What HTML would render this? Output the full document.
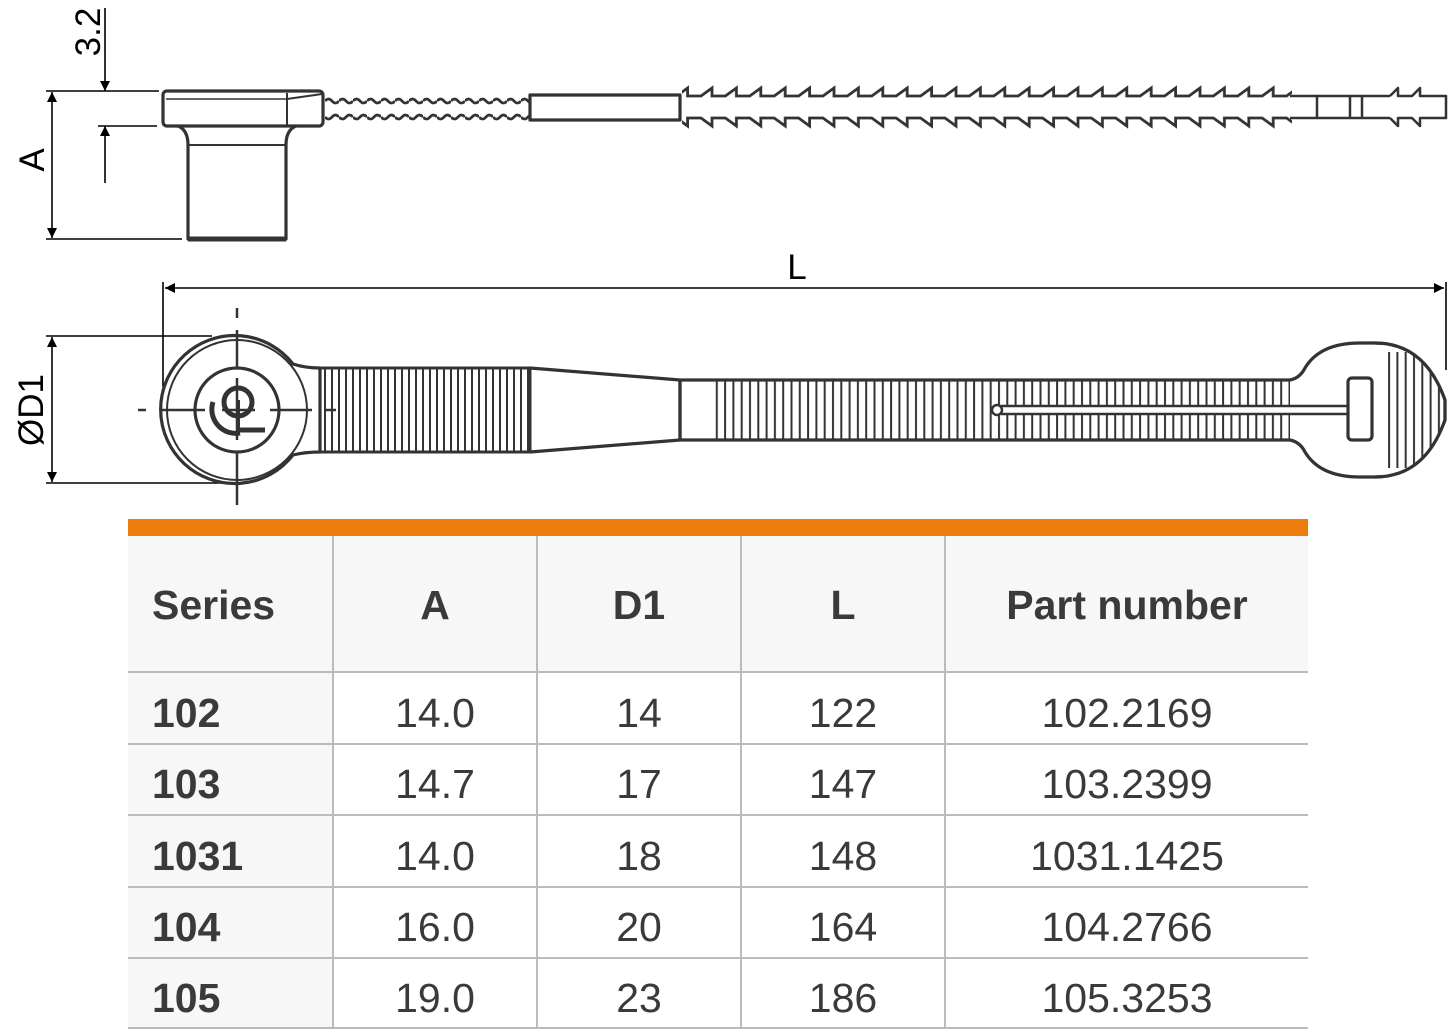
<!DOCTYPE html>
<html><head><meta charset="utf-8"><style>
html,body{margin:0;padding:0;background:#fff;width:1454px;height:1034px;overflow:hidden;position:relative;font-family:"Liberation Sans",Arial,sans-serif}
svg{position:absolute;left:0;top:0}
.tbl{position:absolute;left:128px;top:519px;width:1180px}
.bar{position:absolute;left:0;top:0;width:1180px;height:17px;background:#ec7d0a}
.c{position:absolute;box-sizing:border-box;color:#3a3a3a;display:flex;align-items:center;justify-content:center;font-size:41px;padding-top:10px}
.h{font-weight:bold;font-size:41px;background:#f7f7f7;padding-top:4px}
.s{justify-content:flex-start;padding-left:24px;font-weight:bold;background:#f7f7f7}
</style></head><body>
<svg width="1454" height="520" viewBox="0 0 1454 520">
<defs>
<marker id="ar" viewBox="0 0 10 10" refX="10" refY="5" markerWidth="14" markerHeight="10" markerUnits="userSpaceOnUse" orient="auto-start-reverse"><path d="M0,0L10,5L0,10z" fill="#000"/></marker>
<pattern id="teeth" x="690" y="0" width="24.4" height="140" patternUnits="userSpaceOnUse">
<path d="M0,96 L11,96 L22,88 L22,96 L24.4,96" fill="none" stroke="#333" stroke-width="2.8"/>
<path d="M0,118 L11,118 L22,126 L22,118 L24.4,118" fill="none" stroke="#333" stroke-width="2.8"/>
</pattern>
<pattern id="wave" x="325" y="0" width="14" height="140" patternUnits="userSpaceOnUse">
<path d="M0,101 Q3.5,97 7,101 T14,101" fill="none" stroke="#333" stroke-width="2.8"/>
<path d="M0,117 Q3.5,121 7,117 T14,117" fill="none" stroke="#333" stroke-width="2.8"/>
</pattern>
<pattern id="rib" x="0" y="0" width="7" height="10" patternUnits="userSpaceOnUse">
<line x1="3" y1="0" x2="3" y2="10" stroke="#333" stroke-width="2"/>
</pattern>
<pattern id="rib2" x="0" y="0" width="8.3" height="10" patternUnits="userSpaceOnUse">
<line x1="3" y1="0" x2="3" y2="10" stroke="#333" stroke-width="2"/>
</pattern>
</defs>
<g fill="none" stroke="#000" stroke-width="1.6">
<line x1="105" y1="8" x2="105" y2="91" marker-end="url(#ar)"/>
<line x1="105" y1="183" x2="105" y2="126" marker-end="url(#ar)"/>
<line x1="46" y1="91" x2="159" y2="91"/>
<line x1="98" y1="126" x2="157" y2="126"/>
<line x1="52" y1="165" x2="52" y2="92" marker-end="url(#ar)"/>
<line x1="52" y1="165" x2="52" y2="238" marker-end="url(#ar)"/>
<line x1="46" y1="239" x2="182" y2="239"/>
<line x1="800" y1="288" x2="165" y2="288" marker-end="url(#ar)"/>
<line x1="800" y1="288" x2="1444" y2="288" marker-end="url(#ar)"/>
<line x1="163" y1="282" x2="163" y2="387"/>
<line x1="1446" y1="282" x2="1446" y2="370"/>
<line x1="52" y1="410" x2="52" y2="337" marker-end="url(#ar)"/>
<line x1="52" y1="410" x2="52" y2="482" marker-end="url(#ar)"/>
<line x1="46" y1="336" x2="212" y2="336"/>
<line x1="46" y1="483" x2="226" y2="483"/>
</g>
<g font-family="Liberation Sans,sans-serif" font-size="35" fill="#000">
<text transform="translate(100,32) rotate(-90)" text-anchor="middle">3.2</text>
<text transform="translate(44,160) rotate(-90)" text-anchor="middle">A</text>
<text x="797" y="279" text-anchor="middle">L</text>
<text transform="translate(43,410) rotate(-90)" text-anchor="middle">ØD1</text>
</g>
<g fill="none" stroke="#333" stroke-width="3.2" stroke-linejoin="round">
<rect x="163" y="91" width="160" height="35" rx="4"/>
<line x1="166" y1="99" x2="287" y2="99" stroke-width="1.5"/>
<line x1="287" y1="93" x2="287" y2="125" stroke-width="2"/>
<line x1="287" y1="99" x2="322" y2="94" stroke-width="2"/>
<path d="M178,126 Q188,130 188,145 L188,239 L286,239 L286,145 Q286,130 296,126"/>
<line x1="188" y1="145" x2="286" y2="145" stroke-width="2"/>
<line x1="188" y1="239" x2="286" y2="239" stroke-width="5"/>
<rect x="325" y="95" width="205" height="27" fill="url(#wave)" stroke="none"/>
<line x1="323" y1="97" x2="323" y2="121" stroke-width="2"/>
<rect x="530" y="95" width="150" height="25"/>
<rect x="682" y="84" width="610" height="46" fill="url(#teeth)" stroke="none"/>
<path d="M1290,96 L1317,96 L1317,118 L1290,118" stroke-width="2.5"/>
<line x1="1317" y1="96" x2="1390" y2="96" stroke-width="2.5"/>
<line x1="1317" y1="118" x2="1390" y2="118" stroke-width="2.5"/>
<line x1="1350" y1="96" x2="1350" y2="118" stroke-width="2.5"/>
<line x1="1362" y1="96" x2="1362" y2="118" stroke-width="2.5"/>
<path d="M1390,96 L1398,88 L1398,96 L1412,96 L1420,88 L1420,96 L1446,96 L1446,118 L1420,118 L1420,126 L1412,118 L1398,118 L1398,126 L1390,118" stroke-width="2.5"/>
<path d="M293,364 A74,74 0 1 0 293,455 Q305,452 320,452 L320,368 Q305,368 293,364 Z"/>
<circle cx="237" cy="410" r="70" stroke-width="2"/>
<circle cx="237" cy="410" r="42"/>
<path d="M213,402 A24,24 0 0 0 240,433" stroke-width="5"/>
<circle cx="238" cy="402" r="14" stroke-width="5"/>
<line x1="238" y1="400" x2="238" y2="432" stroke-width="4"/>
<line x1="238" y1="430" x2="265" y2="430" stroke-width="5"/>
<g stroke-width="2.5">
<line x1="237" y1="308" x2="237" y2="318"/>
<line x1="237" y1="330" x2="237" y2="368"/>
<line x1="237" y1="378" x2="237" y2="440"/>
<line x1="237" y1="452" x2="237" y2="505"/>
<line x1="138" y1="410" x2="146" y2="410"/>
<line x1="162" y1="410" x2="205" y2="410"/>
<line x1="222" y1="410" x2="255" y2="410"/>
<line x1="270" y1="410" x2="312" y2="410"/>
<line x1="326" y1="410" x2="336" y2="410"/>
</g>
<rect x="320" y="368" width="210" height="84" fill="url(#rib)" stroke-width="3"/>
<path d="M530,368 L680,380 M530,452 L680,440"/>
<path d="M680,380 L1290,380 Q1300,378 1305,368 Q1320,343 1360,343 L1375,343 Q1425,343 1445,400 L1445,420 Q1425,477 1375,477 L1360,477 Q1320,477 1305,452 Q1300,442 1290,440 L680,440 Z"/>
<rect x="710" y="380" width="580" height="60" fill="url(#rib2)" stroke="none"/>
<rect x="1387" y="352" width="55" height="116" fill="url(#rib2)" stroke="none"/>
<rect x="1376" y="345" width="12" height="130" fill="#fff" stroke="none"/>
<path d="M1445,400 Q1425,343 1375,343 L1445,343 Z M1445,420 Q1425,477 1375,477 L1445,477 Z" fill="#fff" stroke="none"/>
<path d="M1375,343 Q1425,343 1445,400 L1445,420 Q1425,477 1375,477"/>
<line x1="680" y1="380" x2="680" y2="440"/>
<rect x="992" y="406" width="355" height="8" fill="#fff" stroke="none"/>
<path d="M1001,406 L1347,406 M1001,414 L1347,414" stroke-width="2.5"/>
<circle cx="997" cy="410" r="5" fill="#fff" stroke-width="2.5"/>
<rect x="1348" y="378" width="24" height="62" rx="4" fill="#fff"/>
</g>
</svg>
<div class="tbl">
<div class="bar"></div>
<div style="position:absolute;left:0;top:17px;width:1180px;height:493px">
<div class="c h s" style="left:0;top:0;width:204px;height:135px">Series</div>
<div class="c h" style="left:204px;top:0;width:204px;height:135px;border-left:2px solid #bbb">A</div>
<div class="c h" style="left:408px;top:0;width:204px;height:135px;border-left:2px solid #bbb">D1</div>
<div class="c h" style="left:612px;top:0;width:204px;height:135px;border-left:2px solid #bbb">L</div>
<div class="c h" style="left:816px;top:0;width:364px;height:135px;border-left:2px solid #bbb">Part number</div>
</div>
</div>
<div style="position:absolute;left:128px;top:671px;width:1180px">
<div style="position:relative">
<div class="c s" style="left:0;top:0;width:204px;height:72px;border-top:2px solid #bbb">102</div><div class="c" style="left:204px;top:0;width:204px;height:72px;border-top:2px solid #bbb;border-left:2px solid #bbb">14.0</div><div class="c" style="left:408px;top:0;width:204px;height:72px;border-top:2px solid #bbb;border-left:2px solid #bbb">14</div><div class="c" style="left:612px;top:0;width:204px;height:72px;border-top:2px solid #bbb;border-left:2px solid #bbb">122</div><div class="c" style="left:816px;top:0;width:364px;height:72px;border-top:2px solid #bbb;border-left:2px solid #bbb">102.2169</div>
<div class="c s" style="left:0;top:72px;width:204px;height:71px;border-top:2px solid #bbb">103</div><div class="c" style="left:204px;top:72px;width:204px;height:71px;border-top:2px solid #bbb;border-left:2px solid #bbb">14.7</div><div class="c" style="left:408px;top:72px;width:204px;height:71px;border-top:2px solid #bbb;border-left:2px solid #bbb">17</div><div class="c" style="left:612px;top:72px;width:204px;height:71px;border-top:2px solid #bbb;border-left:2px solid #bbb">147</div><div class="c" style="left:816px;top:72px;width:364px;height:71px;border-top:2px solid #bbb;border-left:2px solid #bbb">103.2399</div>
<div class="c s" style="left:0;top:143px;width:204px;height:72px;border-top:2px solid #bbb">1031</div><div class="c" style="left:204px;top:143px;width:204px;height:72px;border-top:2px solid #bbb;border-left:2px solid #bbb">14.0</div><div class="c" style="left:408px;top:143px;width:204px;height:72px;border-top:2px solid #bbb;border-left:2px solid #bbb">18</div><div class="c" style="left:612px;top:143px;width:204px;height:72px;border-top:2px solid #bbb;border-left:2px solid #bbb">148</div><div class="c" style="left:816px;top:143px;width:364px;height:72px;border-top:2px solid #bbb;border-left:2px solid #bbb">1031.1425</div>
<div class="c s" style="left:0;top:215px;width:204px;height:71px;border-top:2px solid #bbb">104</div><div class="c" style="left:204px;top:215px;width:204px;height:71px;border-top:2px solid #bbb;border-left:2px solid #bbb">16.0</div><div class="c" style="left:408px;top:215px;width:204px;height:71px;border-top:2px solid #bbb;border-left:2px solid #bbb">20</div><div class="c" style="left:612px;top:215px;width:204px;height:71px;border-top:2px solid #bbb;border-left:2px solid #bbb">164</div><div class="c" style="left:816px;top:215px;width:364px;height:71px;border-top:2px solid #bbb;border-left:2px solid #bbb">104.2766</div>
<div class="c s" style="left:0;top:286px;width:204px;height:72px;border-top:2px solid #bbb;border-bottom:2px solid #bbb">105</div><div class="c" style="left:204px;top:286px;width:204px;height:72px;border-top:2px solid #bbb;border-bottom:2px solid #bbb;border-left:2px solid #bbb">19.0</div><div class="c" style="left:408px;top:286px;width:204px;height:72px;border-top:2px solid #bbb;border-bottom:2px solid #bbb;border-left:2px solid #bbb">23</div><div class="c" style="left:612px;top:286px;width:204px;height:72px;border-top:2px solid #bbb;border-bottom:2px solid #bbb;border-left:2px solid #bbb">186</div><div class="c" style="left:816px;top:286px;width:364px;height:72px;border-top:2px solid #bbb;border-bottom:2px solid #bbb;border-left:2px solid #bbb">105.3253</div>
</div></div>
</body></html>
